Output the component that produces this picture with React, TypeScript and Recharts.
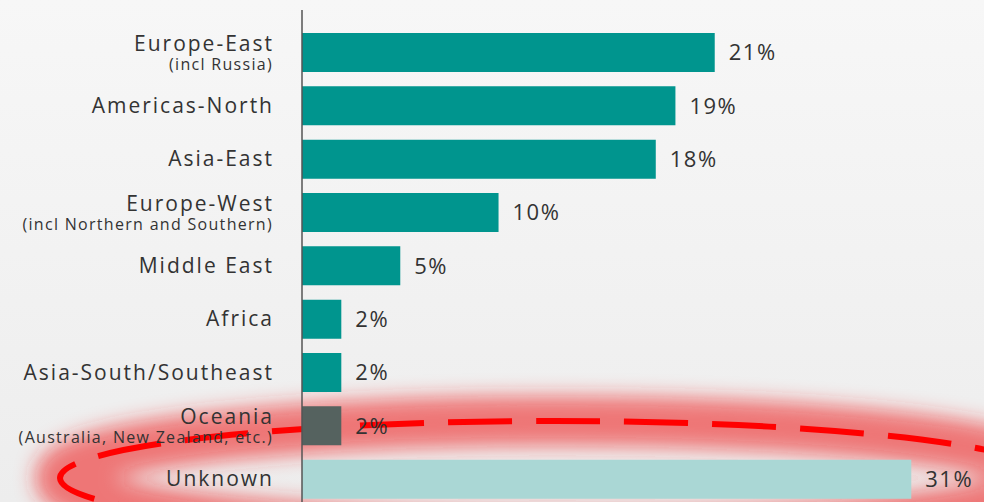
import { Bar, BarChart, Cell, Customized, LabelList, XAxis, YAxis } from "recharts";

const categories = [
  "Europe-East",
  "Americas-North",
  "Asia-East",
  "Europe-West",
  "Middle East",
  "Africa",
  "Asia-South/Southeast",
  "Oceania",
  "Unknown",
];
const subLabels = [
  "(incl Russia)",
  "",
  "",
  "(incl Northern and Southern)",
  "",
  "",
  "",
  "(Australia, New Zealand, etc.)",
  "",
];
const shares = [21, 19, 18, 10, 5, 2, 2, 2, 31];

const TEAL = "#00958e";
const barColors = [TEAL, TEAL, TEAL, TEAL, TEAL, TEAL, TEAL, "#55625f", "#aad7d5"];

const data = categories.map((name, i) => ({ name, sub: subLabels[i], share: shares[i] }));

const FONT = "'Open Sans', 'Noto Sans', sans-serif";

const RegionTick = (props: any) => {
  const { x, y, payload } = props;
  const idx = categories.indexOf(payload.value);
  const sub = subLabels[idx];
  if (!sub) {
    return (
      <text x={x + 2} y={y} dy={7} textAnchor="end" fill="#333" fontSize={21} letterSpacing={2} fontFamily={FONT}>
        {payload.value}
      </text>
    );
  }
  return (
    <g>
      <text x={x + 2} y={y} dy={-2} textAnchor="end" fill="#333" fontSize={21} letterSpacing={2} fontFamily={FONT}>
        {payload.value}
      </text>
      <text x={x + 1} y={y} dy={17} textAnchor="end" fill="#333" fontSize={16} letterSpacing={1.3} fontFamily={FONT}>
        {sub}
      </text>
    </g>
  );
};

const Highlight = () => (
  <g>
    <defs>
      <filter id="glow" x="-20%" y="-100%" width="140%" height="300%">
        <feGaussianBlur stdDeviation="10" />
      </filter>
    </defs>
    <ellipse
      cx={555}
      cy={478}
      rx={495}
      ry={57}
      fill="none"
      stroke="#ee2a2a"
      strokeOpacity={0.6}
      strokeWidth={50}
      filter="url(#glow)"
    />
    <ellipse
      cx={555}
      cy={478}
      rx={495}
      ry={57}
      fill="none"
      stroke="#ff0000"
      strokeWidth={6}
      strokeDasharray="64 24"
    />
  </g>
);

export default function App() {
  return (
    <div
      style={{
        position: "fixed",
        left: 0,
        top: 0,
        width: 984,
        height: 502,
        overflow: "hidden",
        background: "linear-gradient(#f7f7f7, #ededed)",
      }}
    >
      <BarChart
        width={984}
        height={506}
        data={data}
        layout="vertical"
        margin={{ top: 10, right: 0, bottom: 0, left: 0 }}
        barSize={39}
      >
        <XAxis type="number" domain={[0, 34.7]} hide />
        <YAxis
          type="category"
          dataKey="name"
          width={302}
          padding={{ top: 16, bottom: 0 }}
          axisLine={{ stroke: "#555", strokeWidth: 1.5 }}
          tickLine={false}
          tickMargin={24}
          tick={<RegionTick />}
          interval={0}
        />
        <Bar dataKey="share" isAnimationActive={false}>
          {data.map((d, i) => (
            <Cell key={d.name} fill={barColors[i]} />
          ))}
          <LabelList
            dataKey="share"
            position="right"
            offset={14}
            formatter={(v: any) => `${v}%`}
            fill="#333"
            fontSize={22}
            letterSpacing={1.5}
            fontFamily={FONT}
          />
        </Bar>
        <Customized component={<Highlight />} />
      </BarChart>
    </div>
  );
}
